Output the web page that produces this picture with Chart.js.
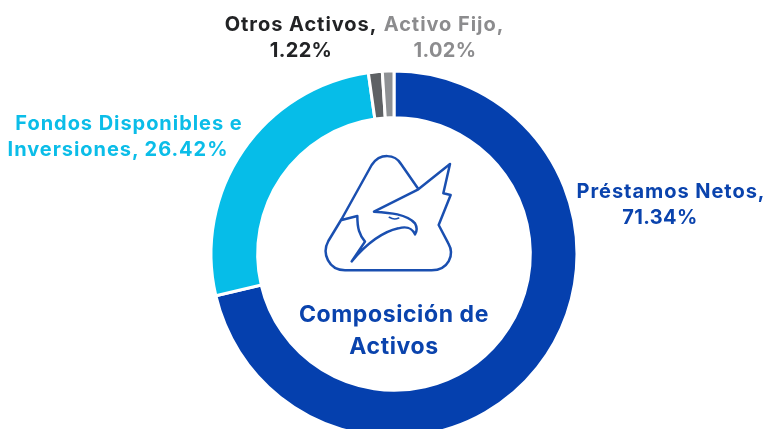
<!DOCTYPE html>
<html>
<head>
<meta charset="utf-8">
<script src="https://cdn.jsdelivr.net/npm/chart.js@4"></script>
<style>
html,body{margin:0;padding:0;background:#fff;width:776px;height:429px;overflow:hidden}
#wrap{position:relative;width:776px;height:429px;overflow:hidden}
canvas{position:absolute;left:0;top:0}
svg{position:absolute;left:300px;top:140px;width:180px;height:140px}
.t{position:absolute;font-family:Inter,sans-serif;font-weight:700;white-space:nowrap;font-size:20px;line-height:26px;text-align:center;letter-spacing:.95px;filter:blur(.35px)}
.n{letter-spacing:.35px}
</style>
</head>
<body>
<div id="wrap">
<canvas id="c" width="788" height="508"></canvas>
<svg viewBox="0 0 540 420" fill="none" stroke="#1a4fb0" stroke-width="7.5" stroke-linejoin="round" stroke-linecap="round">
<path d="M355 147 L303 72 C285 42 240 38 215 75 L125 237 L85 303 C65 340 85 390 135 391 L395 391 C445 390 465 345 445 310 L416 255 L452 165 L430 160 L450 72 L355 148 L222 215 C270 218 320 222 345 250 C352 262 350 275 345 283 C335 262 320 258 295 265 C250 275 205 305 155 364 L195 305 C178 285 172 265 172 228 L125 240"/>
<path d="M268 232 C278 238 288 238 296 234" stroke-width="5"/>
</svg>
<div class="t" style="left:201px;top:11px;color:#222325;width:200px">Otros Activos,</div>
<div class="t n" style="left:201px;top:37px;color:#222325;width:200px">1.22%</div>
<div class="t" style="left:344px;top:11px;color:#8c8c8e;width:200px">Activo Fijo,</div>
<div class="t n" style="left:345px;top:37px;color:#8c8c8e;width:200px">1.02%</div>
<div class="t" style="left:9px;top:110px;color:#0bbde8;width:240px">Fondos Disponibles e</div>
<div class="t" style="left:-2px;top:136px;color:#0bbde8;width:240px">Inversiones, 26.42%</div>
<div class="t" style="left:571px;top:178px;color:#0a43ad;width:200px">Préstamos Netos,</div>
<div class="t n" style="left:560px;top:204px;color:#0a43ad;width:200px">71.34%</div>
<div class="t" style="left:284px;top:298px;color:#0a43ad;width:220px;font-size:23px;line-height:32px;letter-spacing:.6px">Composición de<br>Activos</div>
</div>
<script>
const categories = ["Préstamos Netos", "Fondos Disponibles e Inversiones", "Otros Activos", "Activo Fijo"];
const values = [71.34, 26.42, 1.22, 1.02];
const colors = ["#0540ae", "#06bde8", "#5e6164", "#8e9194"];
new Chart(document.getElementById("c"), {
  type: "doughnut",
  data: { labels: categories, datasets: [{ data: values, backgroundColor: colors, borderColor: "#ffffff", borderWidth: 3 }] },
  options: {
    responsive: false, animation: false, rotation: 0, cutout: "74.5%", radius: 183,
    layout: { padding: 0 },
    plugins: { legend: { display: false }, tooltip: { enabled: false } }
  }
});
</script>
</body>
</html>
